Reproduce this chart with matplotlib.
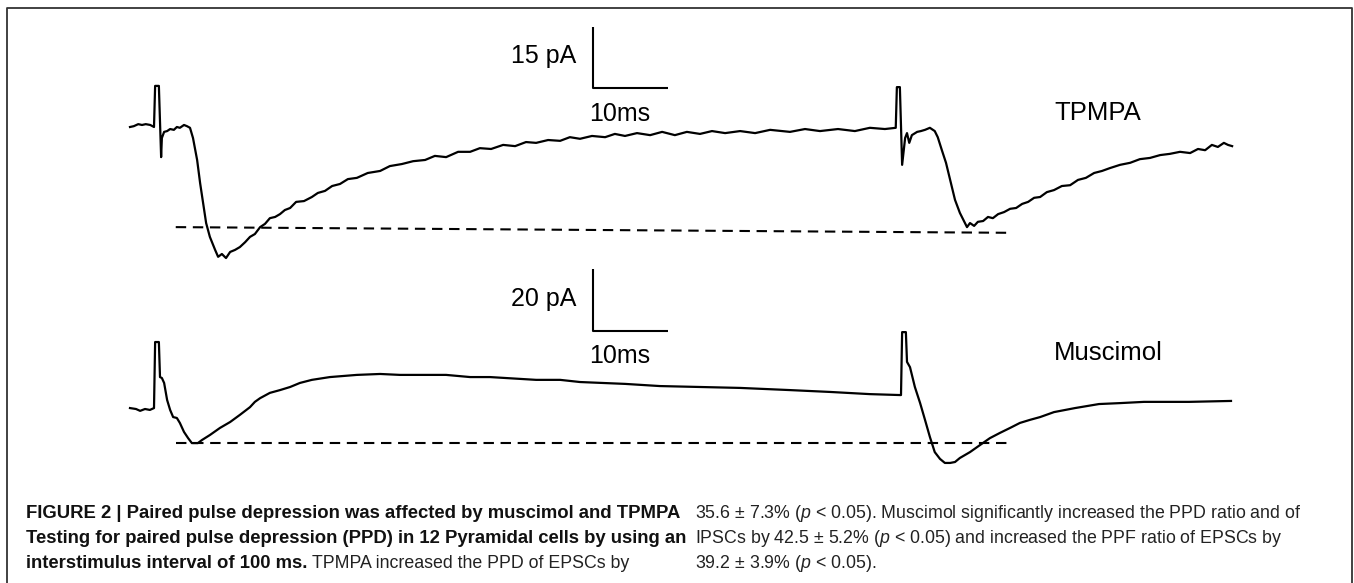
import matplotlib
matplotlib.use('Agg')
from matplotlib import pyplot as plt
from matplotlib.lines import Line2D

plt.rcParams['font.family'] = ['Liberation Sans', 'DejaVu Sans']
plt.rcParams['mathtext.fontset'] = 'custom'
plt.rcParams['mathtext.rm'] = 'Liberation Sans'
plt.rcParams['mathtext.it'] = 'Liberation Sans:italic'

# TPMPA trace: time (ms from first stimulus), current (pA)
tpmpa_t = [-3.6, -3.1, -2.5, -2.0, -1.5, -0.9, -0.4, -0.25, 0.25, 0.55, 0.65, 0.95, 1.35, 1.75,
           2.25, 2.65, 3.05, 3.6, 4.0, 4.4, 4.8, 5.35, 5.75, 6.15, 6.55, 7.05, 7.75, 8.15, 8.65,
           9.2, 9.75, 10.4, 11.05, 11.75, 12.4, 13.05, 13.75, 14.4, 15.05, 15.75, 16.4, 17.05,
           17.75, 18.55, 19.6, 20.65, 21.45, 22.4, 23.35, 24.4, 25.45, 26.65, 28.1, 29.75, 31.05,
           32.65, 34.15, 35.75, 37.05, 38.55, 40.15, 41.75, 43.05, 44.55, 46.15, 47.75, 49.2,
           50.55, 52.15, 53.75, 55.05, 56.4, 58.0, 59.75, 61.05, 62.4, 64.0, 65.75, 67.35, 69.05,
           70.65, 72.4, 74.0, 75.75, 77.75, 79.75, 81.75, 84.4, 86.4, 88.4, 90.8, 93.05, 95.05,
           97.05, 98.4, 98.5, 98.65, 99.05, 99.35, 99.75, 100.0, 100.3, 100.65, 101.35, 101.85,
           102.4, 103.05, 103.7, 104.1, 104.65, 105.2, 105.75, 106.4, 107.05, 107.6, 108.0, 108.4,
           108.95, 109.45, 110.15, 110.8, 111.45, 112.15, 112.95, 113.75, 114.55, 115.35, 116.15,
           116.95, 117.75, 118.65, 119.6, 120.65, 121.75, 122.8, 123.85, 124.95, 126.0, 127.05,
           128.4, 129.75, 131.05, 132.4, 133.75, 135.05, 136.4, 137.75, 138.8, 139.75, 140.65,
           141.45, 142.25, 142.8, 143.35]
tpmpa_i = [0.0, 0.2, 0.7, 0.5, 0.7, 0.5, 0.0, 10.1, 10.1, -7.4, -2.7, -1.2, -1.0, -0.5,
           -0.7, 0.0, -0.2, 0.5, 0.2, -0.2, -2.7, -8.1, -13.8, -18.7, -23.6, -27.0, -30.2, -31.9,
           -31.2, -32.2, -30.7, -30.2, -29.5, -28.3, -27.0, -26.3, -24.6, -23.8, -22.4, -22.1,
           -21.4, -20.4, -19.9, -18.4, -18.2, -17.2, -16.2, -15.7, -14.5, -14.0, -12.8, -12.5,
           -11.3, -10.8, -9.6, -9.1, -8.4, -8.1, -7.1, -7.4, -6.1, -6.1, -5.2, -5.4, -4.4, -4.7,
           -3.7, -3.9, -3.2, -3.4, -2.5, -2.9, -2.2, -2.5, -1.7, -2.2, -1.5, -2.0, -1.2, -2.0,
           -1.2, -1.7, -1.0, -1.5, -1.0, -1.5, -0.7, -1.2, -0.5, -1.0, -0.5, -1.0, -0.2, -0.5,
           -0.2, -0.2, 9.8, 9.8, -9.3, -2.7, -1.5, -3.9, -2.0, -1.2, -1.0, -0.7, -0.2, -1.0,
           -2.5, -5.7, -8.8, -13.0, -17.9, -21.1, -23.1, -24.6, -23.6, -24.3, -23.3, -23.1,
           -22.1, -22.4, -21.4, -20.9, -20.1, -19.9, -18.9, -18.4, -17.4, -17.2, -16.0, -15.5,
           -14.5, -14.3, -13.0, -12.5, -11.3, -10.8, -10.1, -9.3, -8.8, -7.9, -7.6, -6.9, -6.6,
           -6.1, -6.4, -5.4, -5.7, -4.4, -4.9, -3.9, -4.4, -4.7]

# Muscimol trace: time (ms), current (pA)
musc_t = [-3.6, -2.8, -2.25, -1.6, -0.95, -0.4, -0.25, 0.25, 0.4, 0.65, 0.95, 1.35, 1.75, 2.15,
          2.65, 3.05, 3.6, 4.15, 4.65, 5.45, 6.0, 7.05, 8.4, 9.75, 11.05, 12.4, 13.05, 13.75,
          15.05, 16.4, 17.75, 19.05, 20.65, 23.05, 26.65, 29.75, 32.4, 38.55, 41.75, 44.4, 50.55,
          53.75, 56.4, 62.4, 67.05, 72.4, 77.75, 84.4, 89.75, 95.05, 99.05, 99.2, 99.35, 99.85,
          100.0, 100.4, 101.05, 101.75, 102.4, 103.05, 103.7, 104.4, 105.05, 105.75, 106.4,
          107.05, 108.4, 109.75, 111.05, 112.4, 113.75, 115.05, 116.4, 117.75, 119.6, 122.4,
          125.6, 128.4, 131.6, 137.6, 143.2]
musc_i = [0.3, 0.0, -0.6, 0.0, -0.3, 0.3, 21.6, 21.6, 10.3, 10.0, 8.4, 2.9, -0.3, -2.6,
          -2.9, -4.5, -7.4, -9.4, -11.0, -11.0, -10.0, -8.4, -6.1, -4.2, -1.9, 0.6, 2.3, 3.5,
          5.2, 6.1, 7.1, 8.4, 9.4, 10.3, 11.0, 11.3, 11.0, 11.0, 10.3, 10.3, 9.4,
          9.4, 8.7, 8.1, 7.4, 7.1, 6.8, 6.1, 5.5, 4.8, 4.5, 4.5, 24.8, 24.8,
          15.2, 13.5, 7.1, 1.9, -3.5, -9.0, -13.9, -16.1, -17.4, -17.4, -17.1,
          -15.8, -13.9, -11.6, -9.4, -7.7, -6.1, -4.5, -3.5, -2.6, -1.0, 0.3,
          1.6, 1.9, 2.3, 2.3, 2.6]

# dashed peak reference lines: (t_start, t_end), (i_start, i_end)
tpmpa_ref_t = [2.5, 114.1]
tpmpa_ref_i = [-24.6, -26.0]
musc_ref_t = [2.5, 114.1]
musc_ref_i = [-11.0, -11.0]

# scale bars
bar_ms = 10
tpmpa_bar_pa = 15
musc_bar_pa = 20

caption_bold = [
    'FIGURE 2 | Paired pulse depression was affected by muscimol and TPMPA',
    'Testing for paired pulse depression (PPD) in 12 Pyramidal cells by using an',
    'interstimulus interval of 100 ms.',
]
caption_left_tail = 'TPMPA increased the PPD of EPSCs by'
caption_right = [
    r'35.6 ± 7.3% ($p$ < 0.05). Muscimol significantly increased the PPD ratio and of',
    r'IPSCs by 42.5 ± 5.2% ($p$ < 0.05) and increased the PPF ratio of EPSCs by',
    r'39.2 ± 3.9% ($p$ < 0.05).',
]

W, H = 1354, 583


def trace_axes(fig, name, px_per_ms, t0_px, px_per_pa, base_px):
    ax = fig.add_axes([0, 0, 1, 1], label=name)
    ax.set_xlim(-t0_px / px_per_ms, (W - t0_px) / px_per_ms)
    ax.set_ylim((base_px - H) / px_per_pa, base_px / px_per_pa)
    ax.axis('off')
    ax.patch.set_alpha(0)
    return ax


def scale_bar(ax, t, i, pa, label, ms_dy):
    ax.plot([t, t, t + bar_ms], [i + pa, i, i], color='black', lw=1.5, solid_capstyle='butt')
    ax.text(t - 2.2, i + pa * 0.52, label, ha='right', va='center', fontsize=18)
    ax.text(t - 0.5, i - ms_dy, '10ms', ha='left', va='center', fontsize=18)


def fit_width(fig, txt, target):
    r = fig.canvas.get_renderer()
    w = txt.get_window_extent(r).width
    txt.set_fontsize(txt.get_fontsize() * target / w)


def main():
    fig = plt.figure(figsize=(W / 100, H / 100), dpi=100)

    # frame
    fx = lambda x: x / W
    fy = lambda y: 1 - y / H
    fig.add_artist(Line2D([fx(7), fx(7), fx(1352), fx(1352)], [0, fy(8), fy(8), 0],
                          color='#333333', lw=1.3))

    ax1 = trace_axes(fig, 'tpmpa', 7.5, 157, 4.07, 127)
    ax1.plot(tpmpa_t, tpmpa_i, color='black', lw=1.6)
    ax1.plot(tpmpa_ref_t, tpmpa_ref_i, color='black', lw=1.5, dashes=(5, 3.2))
    scale_bar(ax1, 58.1, 9.6, tpmpa_bar_pa, '15 pA', 6.4)
    ax1.text(119.7, 3.4, 'TPMPA', ha='left', va='center', fontsize=18.5)

    ax2 = trace_axes(fig, 'musc', 7.5, 157, 3.1, 409)
    ax2.plot(musc_t, musc_i, color='black', lw=1.6)
    ax2.plot(musc_ref_t, musc_ref_i, color='black', lw=1.5, dashes=(5, 3.2))
    scale_bar(ax2, 58.1, 25.2, musc_bar_pa, '20 pA', 8.1)
    ax2.text(119.6, 18.1, 'Muscimol', ha='left', va='center', fontsize=18.5)

    # caption
    base = [518, 543, 568]
    bold = []
    for k, line in enumerate(caption_bold):
        bold.append(fig.text(fx(26), fy(base[k]), line, fontweight='bold', fontsize=12,
                             va='baseline', ha='left', color='#111111'))
    fig.canvas.draw()
    fit_width(fig, bold[1], 659)
    for b in bold:
        b.set_fontsize(bold[1].get_fontsize())

    right = []
    for k, line in enumerate(caption_right):
        right.append(fig.text(fx(695), fy(base[k]), line, fontsize=12, va='baseline',
                              ha='left', color='#222222'))
    fit_width(fig, right[0], 606)
    for r in right:
        r.set_fontsize(right[0].get_fontsize())

    # regular tail right after the bold run on the third line
    rend = fig.canvas.get_renderer()
    x_end = bold[2].get_window_extent(rend).x1
    fig.text((x_end + 5) / W, fy(base[2]), caption_left_tail, fontsize=right[0].get_fontsize(),
             va='baseline', ha='left', color='#222222')

    fig.savefig('out.png', dpi=100)


if __name__ == '__main__':
    main()
